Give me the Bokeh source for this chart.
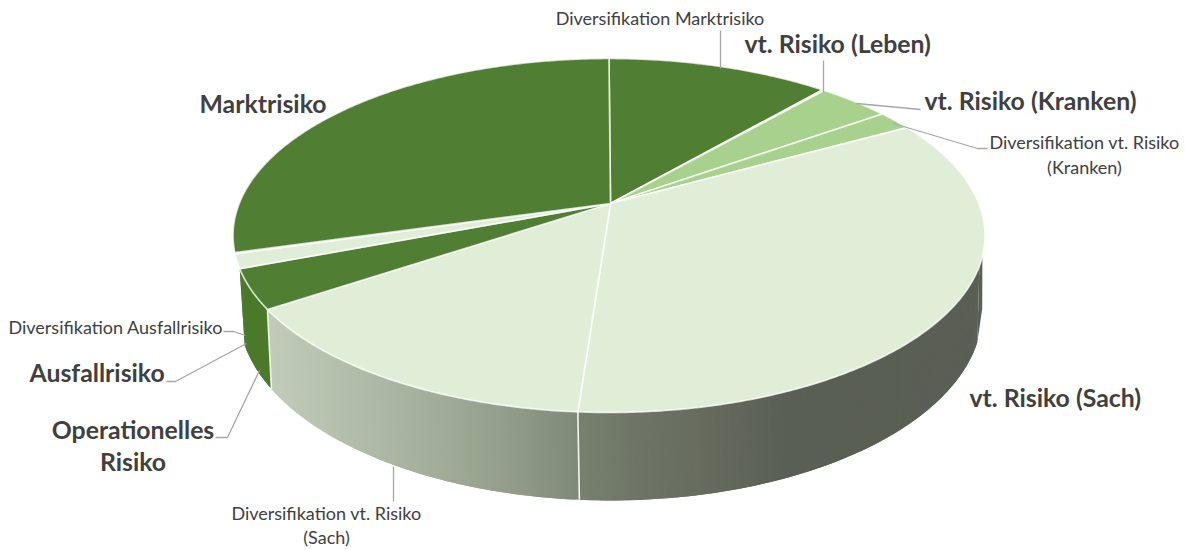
import math
from bokeh.plotting import figure
from bokeh.embed import file_html
from bokeh.resources import INLINE
from bokeh.core.properties import value

# --- data: share of each slice (percent), clockwise from the top
categories = ["Diversifikation Marktrisiko", "vt. Risiko (Leben)", "vt. Risiko (Kranken)",
              "Diversifikation vt. Risiko (Kranken)", "vt. Risiko (Sach)",
              "Diversifikation vt. Risiko (Sach)", "Operationelles Risiko", "Ausfallrisiko",
              "Diversifikation Ausfallrisiko", "Marktrisiko"]
shares = [11.4, 0.1, 3.7, 1.8, 34.1, 14.5, 3.6, 1.3, 0.1, 29.4]

# --- styles
DARK, MID, PALE = "#507e32", "#a9d18e", "#e0eed8"
top_colors = [DARK, MID, MID, MID, PALE, PALE, DARK, PALE, PALE, DARK]
WALL_STOPS = {
    4: [(578, "#78816f"), (640, "#6e7566"), (700, "#666c5e"), (790, "#5a5f54"), (1000, "#5a5f54")],
    5: [(260, "#c2cdbb"), (330, "#b6c2ae"), (400, "#a9b5a2"), (500, "#959f8d"), (578, "#7f8a78")],
    6: [(200, "#4a7a2a"), (300, "#4a7a2a")],
}

# --- perspective geometry of the two rims
CX, CY = 610.0, 203.0
TOP = dict(a=369.8, b=171.2, k=0.1807, cy=CY, dx=-1.5)
LOW = dict(a=365.0, b=182.2, k=0.19, cy=275.0, dx=0.0)


def rim(theta, g):
    th = math.radians(theta)
    s, c = math.sin(th), math.cos(th)
    d = 1 + g["k"] * c
    return CX + g["dx"] + g["a"] * s / d, g["cy"] - g["b"] * c / d


def hex2rgb(h):
    return tuple(int(h[i:i + 2], 16) for i in (1, 3, 5))


def grad(stops, x):
    if x <= stops[0][0]:
        return stops[0][1]
    for (x0, c0), (x1, c1) in zip(stops, stops[1:]):
        if x <= x1:
            f = (x - x0) / (x1 - x0)
            a, b = hex2rgb(c0), hex2rgb(c1)
            return "#%02x%02x%02x" % tuple(round(a[i] + (b[i] - a[i]) * f) for i in range(3))
    return stops[-1][1]


edges = [0.0]
for v in shares:
    edges.append(edges[-1] + v * 3.6)

p = figure(width=1185, height=550, x_range=(0, 1185), y_range=(550, 0),
           output_backend="svg", toolbar_location=None, min_border=0)
p.xaxis.visible = False
p.yaxis.visible = False
p.grid.visible = False
p.outline_line_color = None

# --- side wall, as narrow overlapping strips that follow the horizontal shading
wx, wy, wc = [], [], []
# right-hand cusp where the wall turns away
cusp = [rim(107, TOP), rim(110, TOP), rim(110, LOW), rim(100, LOW)]
wx.append([q[0] for q in cusp])
wy.append([q[1] for q in cusp])
wc.append("#5a5f54")
for idx, stops in WALL_STOPS.items():
    a0, a1 = edges[idx], edges[idx + 1]
    if idx == 4:
        a0 = max(a0, 110.0)
    n = max(2, int((a1 - a0) / 0.5))
    for i in range(n):
        t0 = a0 + (a1 - a0) * i / n
        t1 = min(a1, a0 + (a1 - a0) * (i + 2) / n)
        pts = [rim(t0, TOP), rim(t1, TOP), rim(t1, LOW), rim(t0, LOW)]
        wx.append([q[0] for q in pts])
        wy.append([q[1] for q in pts])
        wc.append(grad(stops, (pts[0][0] + pts[3][0]) / 2))
p.patches(wx, wy, fill_color=wc, line_color=None)

# white seams on the wall
for i in (5, 6):
    a, b = rim(edges[i], TOP), rim(edges[i], LOW)
    p.line([a[0], b[0]], [a[1], b[1]], line_color="#f2f5ef", line_width=1.6)

# --- top face
xs, ys = [], []
for i in range(len(shares)):
    a0, a1 = edges[i], edges[i + 1]
    n = max(2, int((a1 - a0) * 2))
    pts = [rim(a0 + (a1 - a0) * j / n, TOP) for j in range(n + 1)]
    xs.append([CX] + [q[0] for q in pts])
    ys.append([CY] + [q[1] for q in pts])
p.patches(xs, ys, fill_color=top_colors, line_color="white", line_alpha=0.75, line_width=1.7,
          line_join="round")

# --- leader lines
leaders = [
    ([720, 720], [30, 68]),
    ([823, 823], [60, 92]),
    ([920, 856], [109, 103]),
    ([987, 977, 893], [148, 148, 123]),
    ([223, 233, 245], [331, 331, 335]),
    ([166, 175, 246], [381, 381, 343]),
    ([215, 227, 259], [437, 437, 370]),
    ([393, 393], [466, 501]),
]
for lx, ly in leaders:
    p.line(lx, ly, line_color="#a6a6a6", line_width=1.3)

# --- labels: text, anchor x, centre y, bold, align
TXT = "#404040"
labels = [
    ("Marktrisiko", 199, 103, True, "left"),
    ("vt. Risiko (Leben)", 744, 43, True, "left"),
    ("vt. Risiko (Kranken)", 924, 100, True, "left"),
    ("vt. Risiko (Sach)", 969, 397, True, "left"),
    ("Ausfallrisiko", 29, 372, True, "left"),
    ("Operationelles", 132.5, 429, True, "center"),
    ("Risiko", 132.5, 461, True, "center"),
    ("Diversifikation Marktrisiko", 659.5, 17, False, "center"),
    ("Diversifikation vt. Risiko", 1084, 141, False, "center"),
    ("(Kranken)", 1084, 166, False, "center"),
    ("Diversifikation Ausfallrisiko", 8, 326, False, "left"),
    ("Diversifikation vt. Risiko", 326, 512, False, "center"),
    ("(Sach)", 326, 536, False, "center"),
]
for t, x, y, bold, al in labels:
    p.text([x], [y], text=[t], text_font=value("Lato"),
           text_font_size="24.8px" if bold else "18px",
           text_font_style="bold" if bold else "normal",
           text_color=TXT, text_align=al, text_baseline="middle")

open("out.html", "w").write(file_html(p, INLINE))
